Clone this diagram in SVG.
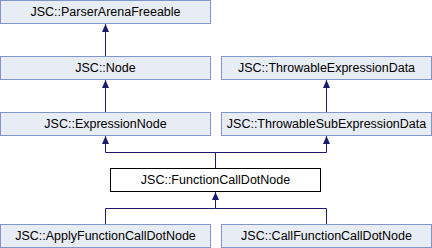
<svg xmlns="http://www.w3.org/2000/svg" width="432" height="248" viewBox="0 0 432 248">
  <style>
    .box { fill: #e8ecf4; stroke: #7f96c8; stroke-width: 1; }
    .main { fill: #ffffff; stroke: #000000; stroke-width: 1; }
    text { font-family: "Liberation Sans", Arial, sans-serif; font-size: 12.5px; fill: #000000; text-anchor: middle; }
    .edge { fill: none; stroke: #191970; stroke-width: 1; }
  </style>
  <defs>
    <marker id="arrow" viewBox="0 0 8 8" refX="8" refY="4" markerWidth="8" markerHeight="8" markerUnits="userSpaceOnUse" orient="auto">
      <path d="M0,0.5 L8,4 L0,7.5 Z" fill="#191970"/>
    </marker>
  </defs>
  <rect width="432" height="248" fill="#ffffff"/>

  <g id="connectors">
    <path class="edge" d="M105.5,56 V24" marker-end="url(#arrow)"/>
    <path class="edge" d="M105.5,112 V80" marker-end="url(#arrow)"/>
    <path class="edge" d="M326.5,112 V80" marker-end="url(#arrow)"/>
    <path class="edge" d="M215.5,168 V152.5 H105.5 V136" marker-end="url(#arrow)"/>
    <path class="edge" d="M215.5,152.5 H326.5 V136" marker-end="url(#arrow)"/>
    <path class="edge" d="M105.5,224 V208.5 H215.5 V192" marker-end="url(#arrow)"/>
    <path class="edge" d="M326.5,224 V208.5 H215.5"/>
  </g>

  <g id="ParserArenaFreeable">
    <rect class="box" x="0.5" y="0.5" width="210" height="23"/>
    <text x="105.5" y="16">JSC::ParserArenaFreeable</text>
  </g>
  <g id="Node">
    <rect class="box" x="0.5" y="56.5" width="210" height="23"/>
    <text x="105.5" y="72">JSC::Node</text>
  </g>
  <g id="ThrowableExpressionData">
    <rect class="box" x="221.5" y="56.5" width="210" height="23"/>
    <text x="326.5" y="72">JSC::ThrowableExpressionData</text>
  </g>
  <g id="ExpressionNode">
    <rect class="box" x="0.5" y="112.5" width="210" height="23"/>
    <text x="105.5" y="128">JSC::ExpressionNode</text>
  </g>
  <g id="ThrowableSubExpressionData">
    <rect class="box" x="221.5" y="112.5" width="210" height="23"/>
    <text x="326.5" y="128">JSC::ThrowableSubExpressionData</text>
  </g>
  <g id="FunctionCallDotNode">
    <rect class="main" x="110.5" y="168.5" width="210" height="23"/>
    <text x="215.5" y="184">JSC::FunctionCallDotNode</text>
  </g>
  <g id="ApplyFunctionCallDotNode">
    <rect class="box" x="0.5" y="224.5" width="210" height="23"/>
    <text x="105.5" y="240">JSC::ApplyFunctionCallDotNode</text>
  </g>
  <g id="CallFunctionCallDotNode">
    <rect class="box" x="221.5" y="224.5" width="210" height="23"/>
    <text x="326.5" y="240">JSC::CallFunctionCallDotNode</text>
  </g>
</svg>
